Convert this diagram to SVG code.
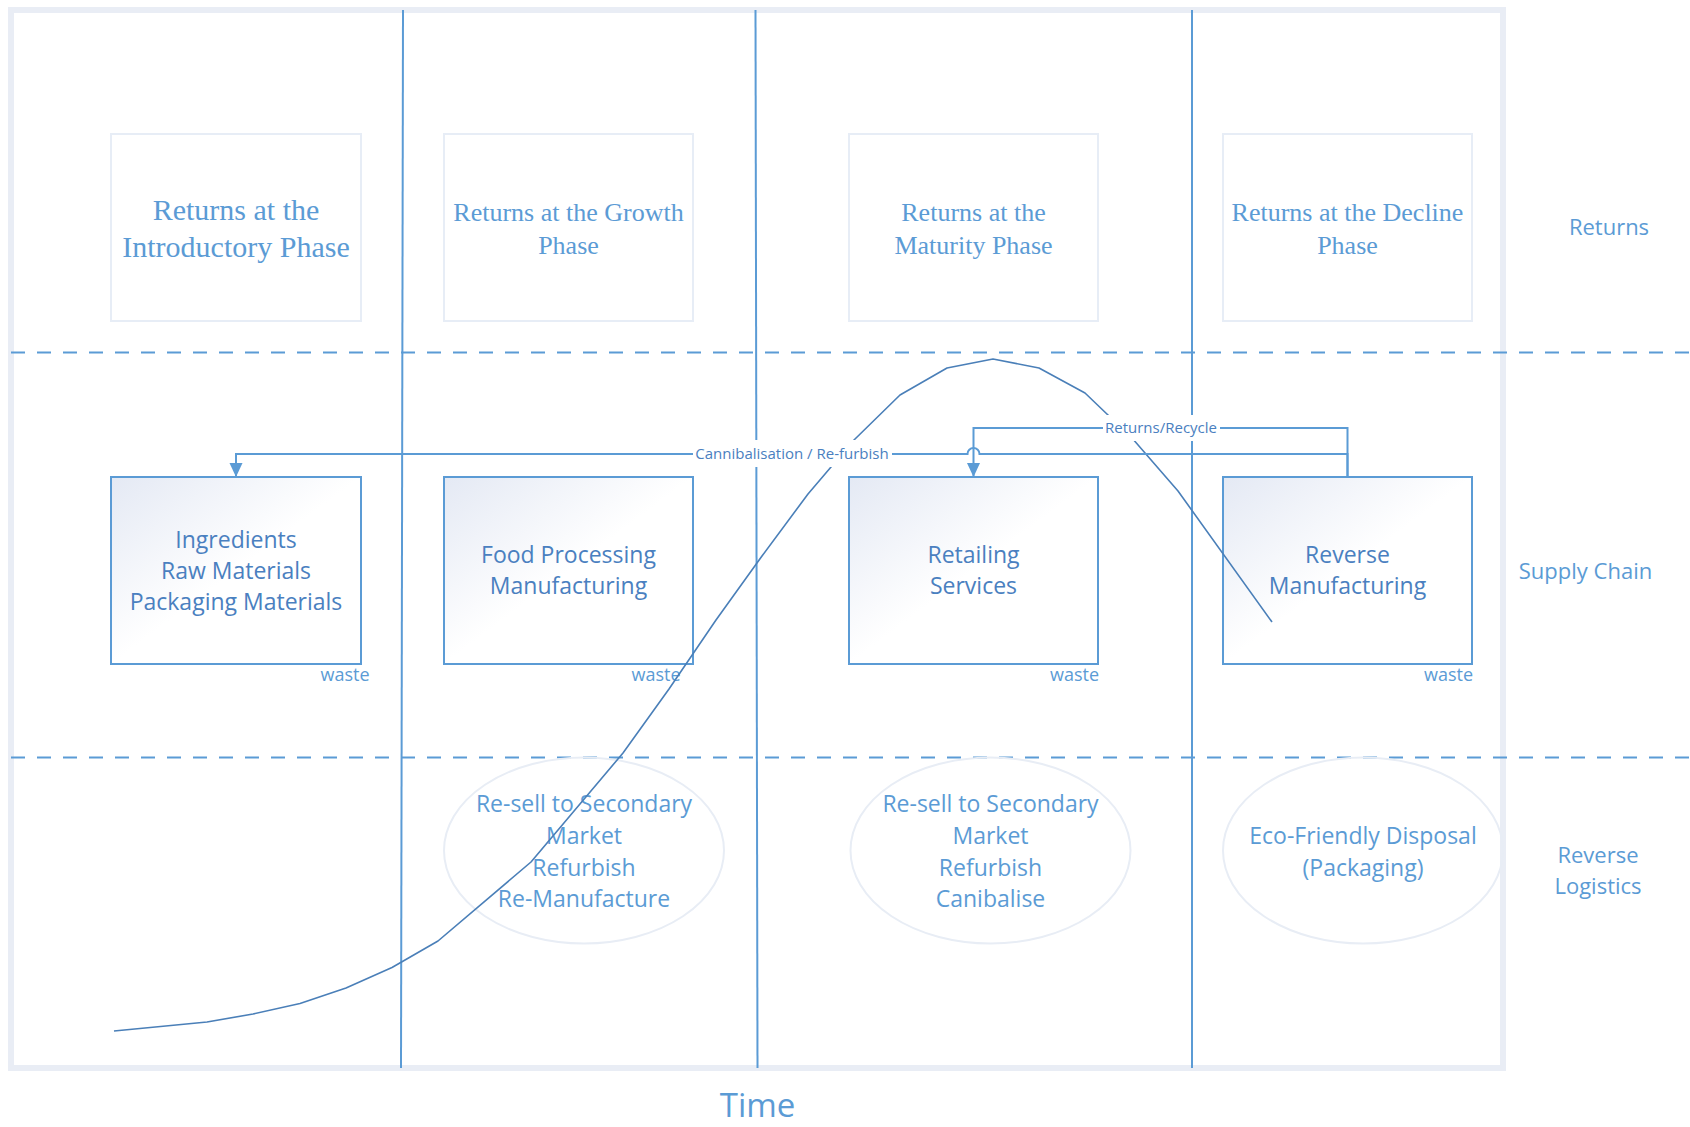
<svg xmlns="http://www.w3.org/2000/svg" width="1690" height="1127" viewBox="0 0 1690 1127">
<defs>
<style>
.frame{fill:#FFFFFF;stroke:#E9EDF5;stroke-width:6}
.lane{stroke:#5B9BD5;stroke-width:2;stroke-dasharray:14 12;fill:none}
.phase{stroke:#5B9BD5;stroke-width:2;fill:none}
.rbox{fill:#FFFFFF;stroke:#E7EDF6;stroke-width:2}
.sbox{fill:url(#sg);stroke:#5B9BD5;stroke-width:2}
.ell{fill:none;stroke:#E8EDF5;stroke-width:2}
.serif{font-family:"Liberation Serif",serif;fill:#5B9BD5;text-anchor:middle}
.sans{font-family:"Open Sans","Liberation Sans",sans-serif;fill:#5B9BD5;text-anchor:middle}
.box{font-family:"Open Sans","Liberation Sans",sans-serif;fill:#4A80C0;text-anchor:middle;font-size:23px}
.ellt{font-size:23px}
.waste{font-size:18px}
.lab{font-size:22px}
.conn{stroke:#5B9BD5;stroke-width:2;fill:none}
.clab{font-family:"Open Sans","Liberation Sans",sans-serif;fill:#4A80C0;text-anchor:middle;font-size:15px}
.curve{stroke:#4A7FB8;stroke-width:1.6;fill:none;stroke-linejoin:round}
</style>
<linearGradient id="sg" x1="0" y1="0" x2="1" y2="1">
<stop offset="0" stop-color="#E4E9F4"/>
<stop offset="0.5" stop-color="#FFFFFF"/>
<stop offset="1" stop-color="#FFFFFF"/>
</linearGradient>
<marker id="arr" markerUnits="userSpaceOnUse" markerWidth="14" markerHeight="14" viewBox="0 0 14 14" refX="14" refY="7" orient="auto">
<path d="M0,0.5 L14,7 L0,13.5 z" fill="#5B9BD5"/>
</marker>
</defs>

<g id="frame">
<rect class="frame" x="11" y="10" width="1492" height="1058"/>
</g>

<g id="lanes">
<line class="lane" x1="11" y1="352.5" x2="1690" y2="352.5"/>
<line class="lane" x1="11" y1="757.5" x2="1690" y2="757.5"/>
<line class="phase" x1="403" y1="10" x2="401" y2="1068"/>
<line class="phase" x1="755.5" y1="10" x2="757.5" y2="1068"/>
<line class="phase" x1="1192" y1="10" x2="1192" y2="1068"/>
</g>

<g id="returns-intro">
<rect class="rbox" x="111" y="134" width="250" height="187"/>
<text class="serif" font-size="30" x="236" y="220">Returns at the</text>
<text class="serif" font-size="30" x="236" y="257">Introductory Phase</text>
</g>
<g id="returns-growth">
<rect class="rbox" x="444" y="134" width="249" height="187"/>
<text class="serif" font-size="26" x="568.5" y="221">Returns at the Growth</text>
<text class="serif" font-size="26" x="568.5" y="253.5">Phase</text>
</g>
<g id="returns-maturity">
<rect class="rbox" x="849" y="134" width="249" height="187"/>
<text class="serif" font-size="26" x="973.5" y="221">Returns at the</text>
<text class="serif" font-size="26" x="973.5" y="253.5">Maturity Phase</text>
</g>
<g id="returns-decline">
<rect class="rbox" x="1223" y="134" width="249" height="187"/>
<text class="serif" font-size="26" x="1347.5" y="221">Returns at the Decline</text>
<text class="serif" font-size="26" x="1347.5" y="253.5">Phase</text>
</g>

<g id="ingredients">
<rect class="sbox" x="111" y="477" width="250" height="187"/>
<text class="box" x="236" y="548">Ingredients</text>
<text class="box" x="236" y="579">Raw Materials</text>
<text class="box" x="236" y="610">Packaging Materials</text>
<text class="sans waste" x="345" y="681">waste</text>
</g>
<g id="food-processing">
<rect class="sbox" x="444" y="477" width="249" height="187"/>
<text class="box" x="568.5" y="563">Food Processing</text>
<text class="box" x="568.5" y="594">Manufacturing</text>
<text class="sans waste" x="656" y="681">waste</text>
</g>
<g id="retailing">
<rect class="sbox" x="849" y="477" width="249" height="187"/>
<text class="box" x="973.5" y="563">Retailing</text>
<text class="box" x="973.5" y="594">Services</text>
<text class="sans waste" x="1074.5" y="681">waste</text>
</g>
<g id="reverse-manufacturing">
<rect class="sbox" x="1223" y="477" width="249" height="187"/>
<text class="box" x="1347.5" y="563">Reverse</text>
<text class="box" x="1347.5" y="594">Manufacturing</text>
<text class="sans waste" x="1448.5" y="681">waste</text>
</g>

<g id="resell-1">
<ellipse class="ell" cx="584" cy="850.5" rx="140" ry="93"/>
<text class="sans ellt" x="584" y="812">Re-sell to Secondary</text>
<text class="sans ellt" x="584" y="844">Market</text>
<text class="sans ellt" x="584" y="876">Refurbish</text>
<text class="sans ellt" x="584" y="907">Re-Manufacture</text>
</g>
<g id="resell-2">
<ellipse class="ell" cx="990.5" cy="850.5" rx="140" ry="93"/>
<text class="sans ellt" x="990.5" y="812">Re-sell to Secondary</text>
<text class="sans ellt" x="990.5" y="844">Market</text>
<text class="sans ellt" x="990.5" y="876">Refurbish</text>
<text class="sans ellt" x="990.5" y="907">Canibalise</text>
</g>
<g id="eco-disposal">
<ellipse class="ell" cx="1363" cy="850.5" rx="140" ry="93"/>
<text class="sans ellt" x="1363" y="844">Eco-Friendly Disposal</text>
<text class="sans ellt" x="1363" y="876">(Packaging)</text>
</g>

<g id="lane-labels">
<text class="sans lab" x="1609" y="235">Returns</text>
<text class="sans lab" x="1585.5" y="579">Supply Chain</text>
<text class="sans lab" x="1598" y="863">Reverse</text>
<text class="sans lab" x="1598" y="894">Logistics</text>
<text class="sans" font-size="33" x="757.5" y="1117">Time</text>
</g>

<g id="life-cycle-curve">
<polyline class="curve" points="114,1031 207,1022 253,1014 300,1003.5 346,988 392,967.5 438,941 531,862 623,753 669,689 716,620 762,556 808,494 854,440 900,395 947,368 993,359 1039,368 1085,393 1132,438 1178,491 1272,622"/>
</g>

<g id="connectors">
<path class="conn" d="M1347.5,477 V454 H979.5 a6,6 0 0 0 -12,0 H236 V477" marker-end="url(#arr)"/>
<path class="conn" d="M1347.5,477 V428 H973.5 V477" marker-end="url(#arr)"/>
<rect x="693" y="440" width="199" height="27" fill="#FFFFFF"/>
<text class="clab" x="792" y="459">Cannibalisation / Re-furbish</text>
<rect x="1103" y="415" width="117" height="26" fill="#FFFFFF"/>
<text class="clab" x="1161" y="433">Returns/Recycle</text>
</g>
</svg>
